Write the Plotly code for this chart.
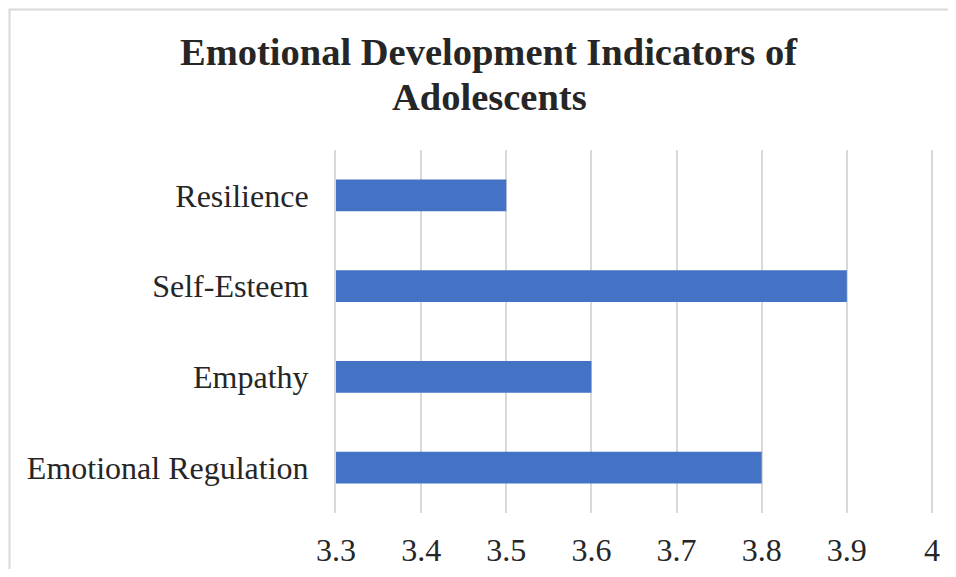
import plotly.graph_objects as go

categories = ["Emotional Regulation", "Empathy", "Self-Esteem", "Resilience"]
values = [3.8, 3.6, 3.9, 3.5]
x_ticks = [3.3, 3.4, 3.5, 3.6, 3.7, 3.8, 3.9, 4.0]
x_tick_labels = ["3.3", "3.4", "3.5", "3.6", "3.7", "3.8", "3.9", "4"]
title_lines = ["Emotional Development Indicators of", "Adolescents"]

# page offset (default body margin) compensated
OFF = 8
EXTRA = 3  # extra plot width so the last gridline (x=4) is not clipped at the edge
W, H = 956 - 2 * OFF, 577 - 2 * OFF
L, R = 336 - OFF, W - (932 - OFF) - EXTRA
T, B = 150 - OFF, H - (513 - OFF)
pw, ph = W - L - R, H - T - B
x_min, x_max_vis = 3.3, 4.0
x_max = x_min + (x_max_vis - x_min) * pw / (pw - EXTRA)

FONT = "Liberation Serif, Times New Roman, serif"
TXT = "#262626"


def px_x(p):
    return (p - OFF - L) / pw


def px_y(p):
    return (H - B - (p - OFF)) / ph


fig = go.Figure(go.Bar(
    x=values, y=categories, orientation="h",
    marker=dict(color="#4472C4", line=dict(width=0)),
    width=0.35,
))

annos = []
for line, yc in zip(title_lines, [52, 97]):
    annos.append(dict(
        text="<b>" + line + "</b>",
        xref="paper", yref="paper",
        x=px_x(489), y=px_y(yc),
        xanchor="center", yanchor="middle", showarrow=False,
        font=dict(size=38.5, family=FONT, color=TXT),
    ))

fig.update_layout(
    width=W, height=H,
    margin=dict(l=L, r=R, t=T, b=B, pad=0, autoexpand=False),
    paper_bgcolor="white", plot_bgcolor="white",
    showlegend=False,
    font=dict(family=FONT, color=TXT),
    xaxis=dict(
        range=[x_min, x_max], tickvals=x_ticks, ticktext=x_tick_labels,
        showgrid=True, gridcolor="#d9d9d9", gridwidth=2,
        zeroline=False, showline=False, automargin=False,
        ticks="outside", ticklen=9, tickcolor="rgba(0,0,0,0)",
        tickfont=dict(size=32, family=FONT, color=TXT),
        fixedrange=True,
    ),
    yaxis=dict(
        showgrid=False, zeroline=False, automargin=False,
        showline=True, linecolor="#d9d9d9", linewidth=2,
        ticks="outside", ticklen=19, tickcolor="rgba(0,0,0,0)",
        tickfont=dict(size=32, family=FONT, color=TXT),
        fixedrange=True,
    ),
    annotations=annos,
    shapes=[dict(
        type="rect", xref="paper", yref="paper",
        x0=px_x(9.5), x1=1.2,
        y0=-0.4, y1=px_y(9.5),
        line=dict(color="#d9d9d9", width=2), fillcolor="rgba(0,0,0,0)",
        layer="below",
    )],
)

fig.write_html("out.html")
